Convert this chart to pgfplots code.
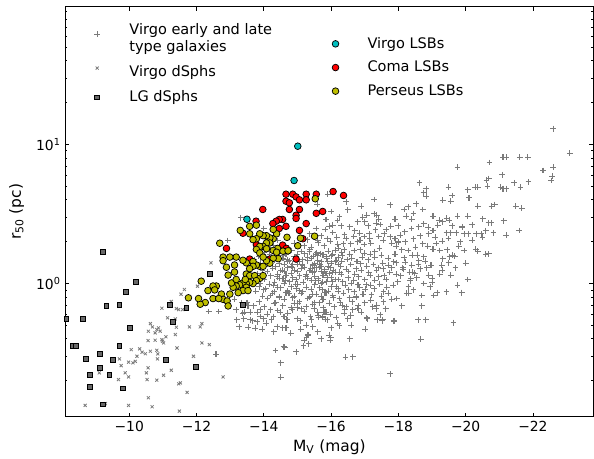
\documentclass[border=0pt]{standalone}
\usepackage{fontspec}
\setmainfont{DejaVu Sans}
\usepackage{pgfplots}
\usepackage{pgfplotstable}
\pgfplotsset{compat=1.18}
\definecolor{vcyan}{HTML}{00BFBF}
\definecolor{pyellow}{HTML}{BFBF00}
\definecolor{pgray}{HTML}{7A7A7A}

\pgfplotstableread{
M r
-22.60 13.0
-23.10 8.66
-22.30 6.50
-22.60 6.87
-22.58 5.92
-22.55 5.51
-21.87 5.39
-21.85 8.11
-21.61 8.11
-21.21 8.11
-21.11 8.11
-20.71 7.42
-21.09 6.05
-20.69 5.69
-20.62 5.54
-21.45 5.30
-21.05 4.93
-21.11 4.82
-21.21 4.82
-21.63 4.93
-20.65 5.01
-19.76 6.87
-20.36 4.93
-20.28 4.93
-20.06 4.72
-20.10 4.14
-19.49 4.93
-18.63 5.30
-18.83 4.82
-18.75 4.49
-18.83 4.25
-19.32 3.97
-19.56 3.91
-19.60 4.30
-18.53 3.76
-17.76 3.68
-17.28 4.02
-18.18 3.41
-18.29 3.56
-18.45 3.19
-18.24 3.05
-18.73 3.41
-19.03 3.05
-19.21 2.85
-19.43 2.95
-19.52 2.85
-19.76 3.05
-20.06 3.05
-20.36 3.60
-20.87 3.70
-20.77 3.60
-21.49 3.60
-21.67 3.48
-20.51 2.92
-20.68 2.73
-20.77 2.73
-21.13 2.83
-21.59 2.41
-21.21 2.23
-20.83 2.32
-20.46 2.28
-20.32 2.28
-20.08 2.28
-19.96 2.28
-19.72 2.32
-19.56 2.32
-19.43 2.32
-19.49 2.11
-19.31 2.02
-19.13 1.94
-19.84 2.00
-20.30 1.77
-20.36 1.71
-20.60 1.62
-20.69 1.64
-19.96 1.73
-19.62 1.60
-19.68 1.57
-19.50 1.41
-19.29 1.35
-18.97 1.35
-18.85 1.30
-19.56 1.15
-19.23 1.17
-19.01 1.09
-19.01 1.02
-20.06 1.07
-19.76 0.97
-19.88 0.86
-19.43 0.87
-19.15 0.86
-19.05 0.82
-18.69 0.69
-18.59 0.548
-19.64 0.524
-18.67 0.397
-17.76 0.224
-18.31 0.851
-18.25 0.851
-17.98 1.03
-18.37 1.08
-17.56 0.87
-17.88 0.535
-17.54 0.548
-17.06 0.567
-17.46 0.598
-16.65 0.298
-16.43 0.295
-16.55 0.402
-15.95 0.425
-15.99 0.407
-15.71 0.402
-16.25 0.496
-15.32 0.425
-15.18 0.356
-14.96 0.323
-14.62 0.348
-14.35 0.330
-14.50 0.270
-14.50 0.212
-15.83 0.553
-15.75 0.575
-16.79 0.661
-16.59 0.592
-16.25 3.02
-16.19 2.84
-16.05 2.63
-15.95 2.58
-15.85 2.89
-16.55 2.56
-16.79 2.78
-16.94 3.00
-17.00 2.78
-17.06 3.10
-17.28 3.17
-17.36 3.10
-17.42 2.90
-17.34 2.72
-17.46 2.66
-17.90 2.90
-17.78 2.58
-17.64 2.45
-17.58 2.28
-17.76 2.17
-17.90 2.11
-18.06 2.23
-18.19 2.35
-18.39 2.49
-18.61 2.56
-18.75 2.69
-18.89 2.54
-19.03 2.41
-19.17 2.63
-19.32 2.78
-16.85 2.30
-16.99 2.18
-17.14 2.28
-17.32 2.43
-17.42 2.18
-17.18 1.95
-16.99 1.91
-16.79 2.00
-16.59 1.93
-16.45 2.11
-16.37 1.93
-16.17 2.15
-16.05 2.33
-15.89 2.11
-15.71 2.20
-15.60 2.04
-15.48 2.15
-15.36 2.28
-15.30 2.06
-15.20 1.87
-17.94 1.85
-18.10 1.75
-18.29 1.73
-18.51 1.82
-18.73 1.93
-18.87 1.85
-19.03 1.77
-19.23 1.73
-19.32 1.51
-19.52 1.56
-18.75 1.56
-18.57 1.60
-18.41 1.60
-18.18 1.53
-17.44 1.79
-17.30 1.69
-17.16 1.62
-16.99 1.65
-16.87 1.75
-16.69 1.73
-16.55 1.62
-16.39 1.75
-16.21 1.55
-16.05 1.62
-15.87 1.56
-15.69 1.64
-15.54 1.62
-15.36 1.69
-17.86 1.43
-17.70 1.35
-17.54 1.40
-17.40 1.30
-17.26 1.37
-17.06 1.33
-16.88 1.39
-16.75 1.28
-16.59 1.37
-16.45 1.27
-16.29 1.33
-16.13 1.21
-15.97 1.30
-15.81 1.23
-15.65 1.31
-15.50 1.23
-18.65 1.28
-18.49 1.19
-18.33 1.21
-18.15 1.27
-18.07 1.14
-17.94 1.17
-17.74 1.20
-17.58 1.14
-17.42 1.12
-17.30 1.06
-17.16 1.15
-17.00 1.07
-16.82 1.12
-16.67 1.06
-16.51 1.10
-16.35 1.03
-16.21 1.07
-16.05 1.03
-15.89 1.10
-15.75 1.02
-15.62 1.06
-17.18 0.97
-17.02 0.91
-16.85 0.93
-16.69 0.87
-16.53 0.90
-16.37 0.85
-16.21 0.88
-16.05 0.82
-15.85 0.86
-15.71 0.81
-17.56 0.74
-17.36 0.70
-17.18 0.76
-17.00 0.73
-16.81 0.69
-16.63 0.74
-16.45 0.68
-16.27 0.73
-16.09 0.68
-15.95 0.72
-15.77 0.67
-16.39 0.61
-16.15 0.57
-15.97 0.60
-15.79 0.62
-15.62 0.59
-15.42 0.55
-15.26 0.50
-15.08 0.54
-15.31 0.43
-15.27 0.41
-15.97 0.39
-13.27 0.49
-13.54 0.485
-13.75 0.477
-13.60 0.55
-14.00 0.56
-14.23 0.55
-14.40 0.49
-14.56 0.48
-14.66 0.48
-14.07 0.52
-14.99 0.56
-15.46 0.49
-13.37 0.61
-13.13 0.77
-13.18 0.65
-13.50 0.73
-13.70 0.69
-13.90 0.65
-14.20 0.65
-13.90 0.58
-14.29 0.58
-14.49 0.62
-14.69 0.55
-14.84 0.65
-14.99 0.67
-15.39 0.58
-15.63 0.57
-15.88 0.55
-15.34 0.37
-14.59 0.35
-17.07 0.56
-17.37 0.55
-17.52 0.54
-17.87 0.54
-17.02 0.47
-16.65 0.65
-16.81 0.66
-16.41 0.65
-18.81 0.55
-17.80 0.77
-17.24 0.68
-17.34 0.66
-17.64 1.07
-18.43 1.21
-17.94 1.41
-18.13 1.30
-18.61 1.46
-13.32 2.98
-12.93 2.04
-12.36 0.63
-12.66 0.63
-13.35 0.73
-13.42 0.62
-13.53 0.69
-12.58 0.31
-13.67 0.54
-15.90 4.40
-16.45 3.87
-15.56 2.49
-15.83 2.45
-14.00 2.49
-15.59 3.70
-14.10 1.98
-14.42 2.04
-14.90 1.95
-15.62 1.97
-15.97 2.02
-13.90 1.82
-14.30 1.88
-14.72 1.81
-15.02 1.89
-15.41 1.83
-15.80 1.87
-16.22 1.80
-14.02 1.68
-14.21 1.74
-14.62 1.67
-14.83 1.73
-15.11 1.70
-15.37 1.75
-15.57 1.66
-15.92 1.71
-16.12 1.74
-16.31 1.67
-13.85 1.57
-14.17 1.63
-14.46 1.58
-14.66 1.62
-14.91 1.56
-15.22 1.64
-15.47 1.57
-15.76 1.61
-16.02 1.58
-13.72 1.48
-14.06 1.53
-14.31 1.47
-14.57 1.52
-14.76 1.46
-14.97 1.54
-15.16 1.48
-15.42 1.52
-15.61 1.46
-15.87 1.51
-16.16 1.47
-13.91 1.40
-14.21 1.45
-14.46 1.39
-14.71 1.44
-14.86 1.38
-15.06 1.43
-15.31 1.46
-15.51 1.39
-15.71 1.44
-16.01 1.40
-16.32 1.45
-13.76 1.33
-14.11 1.37
-14.36 1.32
-14.61 1.38
-14.81 1.33
-15.01 1.37
-15.21 1.31
-15.46 1.36
-15.66 1.38
-15.91 1.32
-16.21 1.37
-13.96 1.25
-14.26 1.29
-14.51 1.24
-14.71 1.30
-14.91 1.25
-15.11 1.29
-15.36 1.24
-15.56 1.30
-15.81 1.26
-16.06 1.25
-13.81 1.18
-14.11 1.22
-14.41 1.17
-14.61 1.23
-14.81 1.18
-15.01 1.22
-15.26 1.17
-15.46 1.21
-15.71 1.23
-15.96 1.18
-16.26 1.21
-13.91 1.10
-14.21 1.14
-14.46 1.09
-14.66 1.15
-14.86 1.10
-15.06 1.14
-15.31 1.09
-15.51 1.13
-15.76 1.15
-16.01 1.10
-13.72 1.03
-14.02 1.07
-14.32 1.02
-14.57 1.08
-14.77 1.03
-14.97 1.07
-15.17 1.02
-15.42 1.06
-15.62 1.08
-15.87 1.03
-16.12 1.07
-13.86 0.95
-14.16 0.99
-14.41 0.94
-14.61 1.00
-14.81 0.95
-15.01 0.99
-15.26 0.94
-15.51 0.98
-15.71 1.00
-16.01 0.95
-13.76 0.88
-14.06 0.92
-14.31 0.87
-14.51 0.93
-14.71 0.88
-14.96 0.92
-15.16 0.87
-15.41 0.91
-15.66 0.93
-15.91 0.88
-16.21 0.92
-13.96 0.81
-14.26 0.85
-14.46 0.80
-14.66 0.86
-14.91 0.81
-15.11 0.85
-15.36 0.80
-15.56 0.84
-15.81 0.86
-13.86 0.74
-14.11 0.78
-14.36 0.73
-14.61 0.77
-14.86 0.79
-15.06 0.74
-15.31 0.78
-15.51 0.73
-15.76 0.77
-16.06 0.79
-14.01 0.68
-14.31 0.72
-14.56 0.69
-14.81 0.67
-15.01 0.72
-15.26 0.68
-15.46 0.71
-15.66 0.73
-13.81 0.62
-14.41 0.64
-14.71 0.61
-15.11 0.66
-15.61 0.62
-16.12 1.45
-16.33 1.58
-16.48 1.49
-16.62 1.52
-16.77 1.44
-16.93 1.55
-16.20 1.92
-16.40 2.25
-16.68 2.18
-16.86 2.05
-16.30 1.17
-16.52 1.22
-16.71 1.17
-16.90 1.25
-16.15 0.95
-16.42 0.97
-16.60 1.00
-16.80 0.98
-16.95 0.84
-16.25 0.78
-16.55 0.79
-16.75 0.80
-16.33 0.70
-16.90 0.62
-16.50 0.56
-17.10 1.48
-17.30 1.55
-17.50 1.60
-17.70 1.52
-17.90 1.63
-17.12 1.20
-17.35 1.24
-17.55 1.28
-17.80 1.30
-17.05 0.98
-17.28 0.92
-17.45 0.99
-17.65 0.94
-17.85 0.97
-17.20 0.83
-17.50 0.81
-17.70 0.85
-17.95 0.78
-17.15 2.10
-17.55 2.05
-17.80 1.95
-18.00 1.99
-17.62 0.66
-18.10 0.69
-18.30 0.95
-18.20 1.42
-18.40 1.35
-18.60 1.38
-18.80 1.45
-18.35 1.05
-18.55 1.10
-18.75 1.00
-18.90 1.15
-18.45 0.90
-18.70 0.82
-18.20 2.00
-18.45 2.10
-18.65 2.20
-18.90 2.28
-19.10 2.15
-14.55 1.25
-14.85 1.30
-15.15 1.36
-15.40 1.28
-15.70 1.33
-14.65 1.05
-14.95 0.99
-15.25 1.12
-15.55 1.05
-15.85 1.18
-14.75 0.85
-15.05 0.89
-15.45 0.84
-15.75 0.90
-16.05 1.20
-14.40 1.12
-14.70 1.48
-15.00 1.62
-15.30 1.55
-15.60 1.60
-15.90 1.45
-14.30 0.97
-14.90 0.72
-15.20 0.63
-15.50 0.66
-15.85 0.62
-14.20 0.82
-14.00 0.90
-13.90 1.00
-13.60 0.62
-13.40 0.56
-13.20 0.55
-13.80 0.53
-14.10 0.60
-14.60 0.58
-13.95 0.47
-14.30 0.45
-14.80 0.44
-15.10 0.47
-15.60 0.45
-16.00 0.48
-15.20 0.39
-16.20 0.52
-16.60 0.50
-16.00 3.30
-16.50 3.40
-16.90 3.60
-17.10 2.60
-16.70 2.40
-16.30 2.60
-18.00 2.60
-18.40 2.90
-19.60 2.60
-19.90 2.55
-20.20 2.65
-20.60 2.40
-19.80 1.85
-20.20 2.05
-20.50 2.15
-19.30 1.25
-19.70 1.30
-19.45 1.75
-20.00 1.40
-18.95 0.95
}\virgogal

\pgfplotstableread{
M r
-8.69 0.133
-9.29 0.137
-9.98 0.133
-10.68 0.130
-10.57 0.151
-11.49 0.121
-11.72 0.165
-11.47 0.190
-11.52 0.193
-10.82 0.202
-11.02 0.219
-10.53 0.204
-9.98 0.213
-9.68 0.204
-9.88 0.228
-9.76 0.257
-9.71 0.287
-9.98 0.272
-10.11 0.269
-10.18 0.276
-10.06 0.335
-10.31 0.339
-10.38 0.321
-10.23 0.300
-10.48 0.313
-10.63 0.326
-10.82 0.331
-10.84 0.287
-10.85 0.312
-10.56 0.248
-10.51 0.228
-11.25 0.238
-11.42 0.344
-11.02 0.374
-10.97 0.395
-10.77 0.442
-10.82 0.467
-10.92 0.454
-10.87 0.480
-10.69 0.488
-10.57 0.454
-10.63 0.515
-10.56 0.389
-10.77 0.391
-10.99 0.385
-11.09 0.414
-11.14 0.567
-11.37 0.557
-11.40 0.485
-11.37 0.430
-11.79 0.488
-12.11 0.488
-12.16 0.515
-12.16 0.374
-12.38 0.364
-11.91 0.300
-12.79 0.213
-12.03 0.957
-11.64 0.906
-11.54 0.838
-10.97 0.664
-11.25 0.743
-11.47 0.650
-11.59 0.650
-12.43 1.41
-9.11 0.228
-11.40 0.661
}\virgodsph

\pgfplotstableread{
M r
-10.21 1.03
-9.91 0.871
-9.32 0.695
-9.71 0.706
-11.20 0.706
-11.70 0.668
-11.30 0.527
-10.01 0.480
-8.13 0.557
-8.62 0.557
-8.32 0.358
-8.42 0.358
-9.71 0.358
-8.72 0.287
-9.12 0.313
-9.51 0.281
-9.12 0.248
-9.41 0.221
-8.82 0.221
-8.82 0.181
-9.81 0.176
-11.10 0.281
-11.99 0.252
-9.22 0.135
-13.38 0.706
-12.39 1.17
-9.21 1.68
}\lgdsph

\pgfplotstableread{
M r
-15.01 9.72
-14.90 5.51
-13.50 2.90
}\virgolsb

\pgfplotstableread{
M r
-14.66 4.39
-14.86 4.39
-14.96 4.20
-15.06 4.00
-15.26 4.39
-15.26 4.00
-15.56 4.39
-16.06 4.59
-16.37 4.30
-14.66 3.91
-14.76 3.81
-13.97 3.41
-14.76 3.41
-15.06 3.41
-14.96 3.10
-14.96 2.94
-15.75 3.30
-15.56 3.20
-15.26 2.70
-15.06 2.41
-14.56 2.89
-14.46 2.89
-14.37 2.81
-14.27 2.70
-13.77 2.81
-14.66 2.58
-14.46 2.49
-15.16 2.10
-14.56 1.89
-14.96 1.50
-14.07 2.19
-13.38 2.30
-12.89 1.79
-13.58 1.50
-13.78 1.90
-14.18 1.50
-14.67 1.79
}\comalsb

\pgfplotstableread{
M r
-15.53 4.07
-15.51 2.19
-15.01 1.87
-15.09 2.12
-14.69 2.15
-14.41 1.79
-14.28 2.10
-14.38 2.28
-14.28 2.45
-14.18 2.13
-14.08 2.21
-13.98 2.21
-13.88 2.28
-13.78 2.10
-13.68 2.07
-13.58 2.28
-13.78 2.63
-13.58 2.58
-13.30 2.41
-14.18 1.96
-14.08 1.96
-13.98 1.85
-13.88 1.85
-13.78 1.76
-13.88 1.66
-14.08 1.78
-14.28 1.73
-14.38 1.68
-14.57 1.71
-14.72 1.72
-14.43 1.51
-14.28 1.52
-14.18 1.40
-14.08 1.46
-13.98 1.55
-13.88 1.33
-13.78 1.36
-13.68 1.44
-13.68 1.33
-13.98 1.33
-13.58 1.28
-13.48 1.41
-13.38 1.47
-13.18 1.55
-12.99 1.55
-12.79 1.55
-12.69 1.95
-12.79 1.46
-12.89 1.31
-12.94 1.15
-13.13 1.36
-13.13 1.21
-13.48 1.17
-13.58 1.14
-13.73 1.14
-13.88 1.09
-13.98 1.14
-13.78 1.05
-13.68 1.00
-13.58 1.02
-13.48 1.00
-13.38 1.01
-13.28 0.98
-13.18 0.96
-13.09 0.94
-13.04 1.01
-13.48 0.94
-13.38 0.89
-13.24 0.86
-13.53 0.89
-12.99 0.84
-12.74 0.84
-12.59 0.96
-12.49 0.96
-12.54 0.90
-12.34 0.89
-12.14 1.04
-12.79 0.77
-12.49 0.78
-12.26 0.73
-12.11 0.71
-12.06 0.78
-11.76 0.79
-12.91 0.75
-12.94 0.69
-12.66 0.78
-13.18 1.07
-13.45 1.07
}\perslsb

\begin{document}
\begin{tikzpicture}
\begin{axis}[name=ax,
  scale only axis, width=396.2pt, height=307.7pt,
  x dir=reverse, xmin=-23.8, xmax=-8.1,
  ymode=log, ymin=0.11, ymax=98,
  xtick={-22,-20,-18,-16,-14,-12,-10},
  xticklabels={−22,−20,−18,−16,−14,−12,−10},
  ytick={1,10},
  yticklabels={10\textsuperscript{0},10\textsuperscript{1}},
  minor ytick={0.2,0.3,0.4,0.5,0.6,0.7,0.8,0.9,2,3,4,5,6,7,8,9,20,30,40,50,60,70,80,90},
  tick align=inside,
  major tick length=3pt, minor tick length=1.6pt,
  every tick/.style={black, line width=0.6pt},
  axis line style={line width=0.75pt},
  ticklabel style={font=\fontsize{10.4}{12}\selectfont},
  xlabel={M\textsubscript{V} (mag)},
  ylabel={r\textsubscript{50} (pc)},
  every axis x label/.style={at={(axis description cs:0.5,0)}, yshift=-22.7pt, anchor=center, font=\fontsize{11.6}{13.9}\selectfont},
  every axis y label/.style={at={(axis description cs:0,0.5)}, xshift=-36.5pt, rotate=90, anchor=center, font=\fontsize{11.6}{13.9}\selectfont},
  legend style={draw=none, fill=none, at={(0,1)}, anchor=north west,
    xshift=18.5pt, yshift=-8.0pt, font=\fontsize{10.9}{12.5}\selectfont, row sep=5pt,
    /tikz/every odd column/.append style={column sep=20pt}},
  legend cell align=left,
]
\addplot[only marks, mark=+, mark size=2.2pt, draw=pgray, line width=0.8pt] table[x=M, y=r] {\virgogal};
\addlegendentry{\begin{tabular}{@{}l@{}}Virgo early and late\\type galaxies\end{tabular}}
\addplot[only marks, mark=x, mark size=1.6pt, draw=pgray, line width=0.6pt] table[x=M, y=r] {\virgodsph};
\addlegendentry{\raisebox{0pt}[\dimexpr\height+6.5pt\relax]{Virgo dSphs}}
\addplot[only marks, mark=square*, mark size=1.8pt, draw=black, fill=pgray!85!black, line width=0.6pt] table[x=M, y=r] {\lgdsph};
\addlegendentry{LG dSphs}
\end{axis}
\begin{axis}[
  scale only axis, width=396.2pt, height=307.7pt,
  x dir=reverse, xmin=-23.8, xmax=-8.1,
  ymode=log, ymin=0.11, ymax=98,
  hide axis,
  legend style={draw=none, fill=none, at={(0,1)}, anchor=north west,
    xshift=197pt, yshift=-18.8pt, font=\fontsize{10.9}{12.5}\selectfont, row sep=4.1pt,
    /tikz/every odd column/.append style={column sep=19.5pt}},
  legend cell align=left,
]
\addplot[only marks, mark=*, mark size=2.5pt, draw=black, fill=vcyan, line width=0.55pt] table[x=M, y=r] {\virgolsb};
\addlegendentry{Virgo LSBs}
\addplot[only marks, mark=*, mark size=2.5pt, draw=black, fill=red, line width=0.55pt] table[x=M, y=r] {\comalsb};
\addlegendentry{Coma LSBs}
\addplot[only marks, mark=*, mark size=2.5pt, draw=black, fill=pyellow, line width=0.55pt] table[x=M, y=r] {\perslsb};
\addlegendentry{Perseus LSBs}
\end{axis}
\pgfresetboundingbox
\path[use as bounding box] ([shift={(-49pt,-31pt)}]ax.south west) rectangle ([shift={(0.4pt,5pt)}]ax.north east);
\end{tikzpicture}
\end{document}
